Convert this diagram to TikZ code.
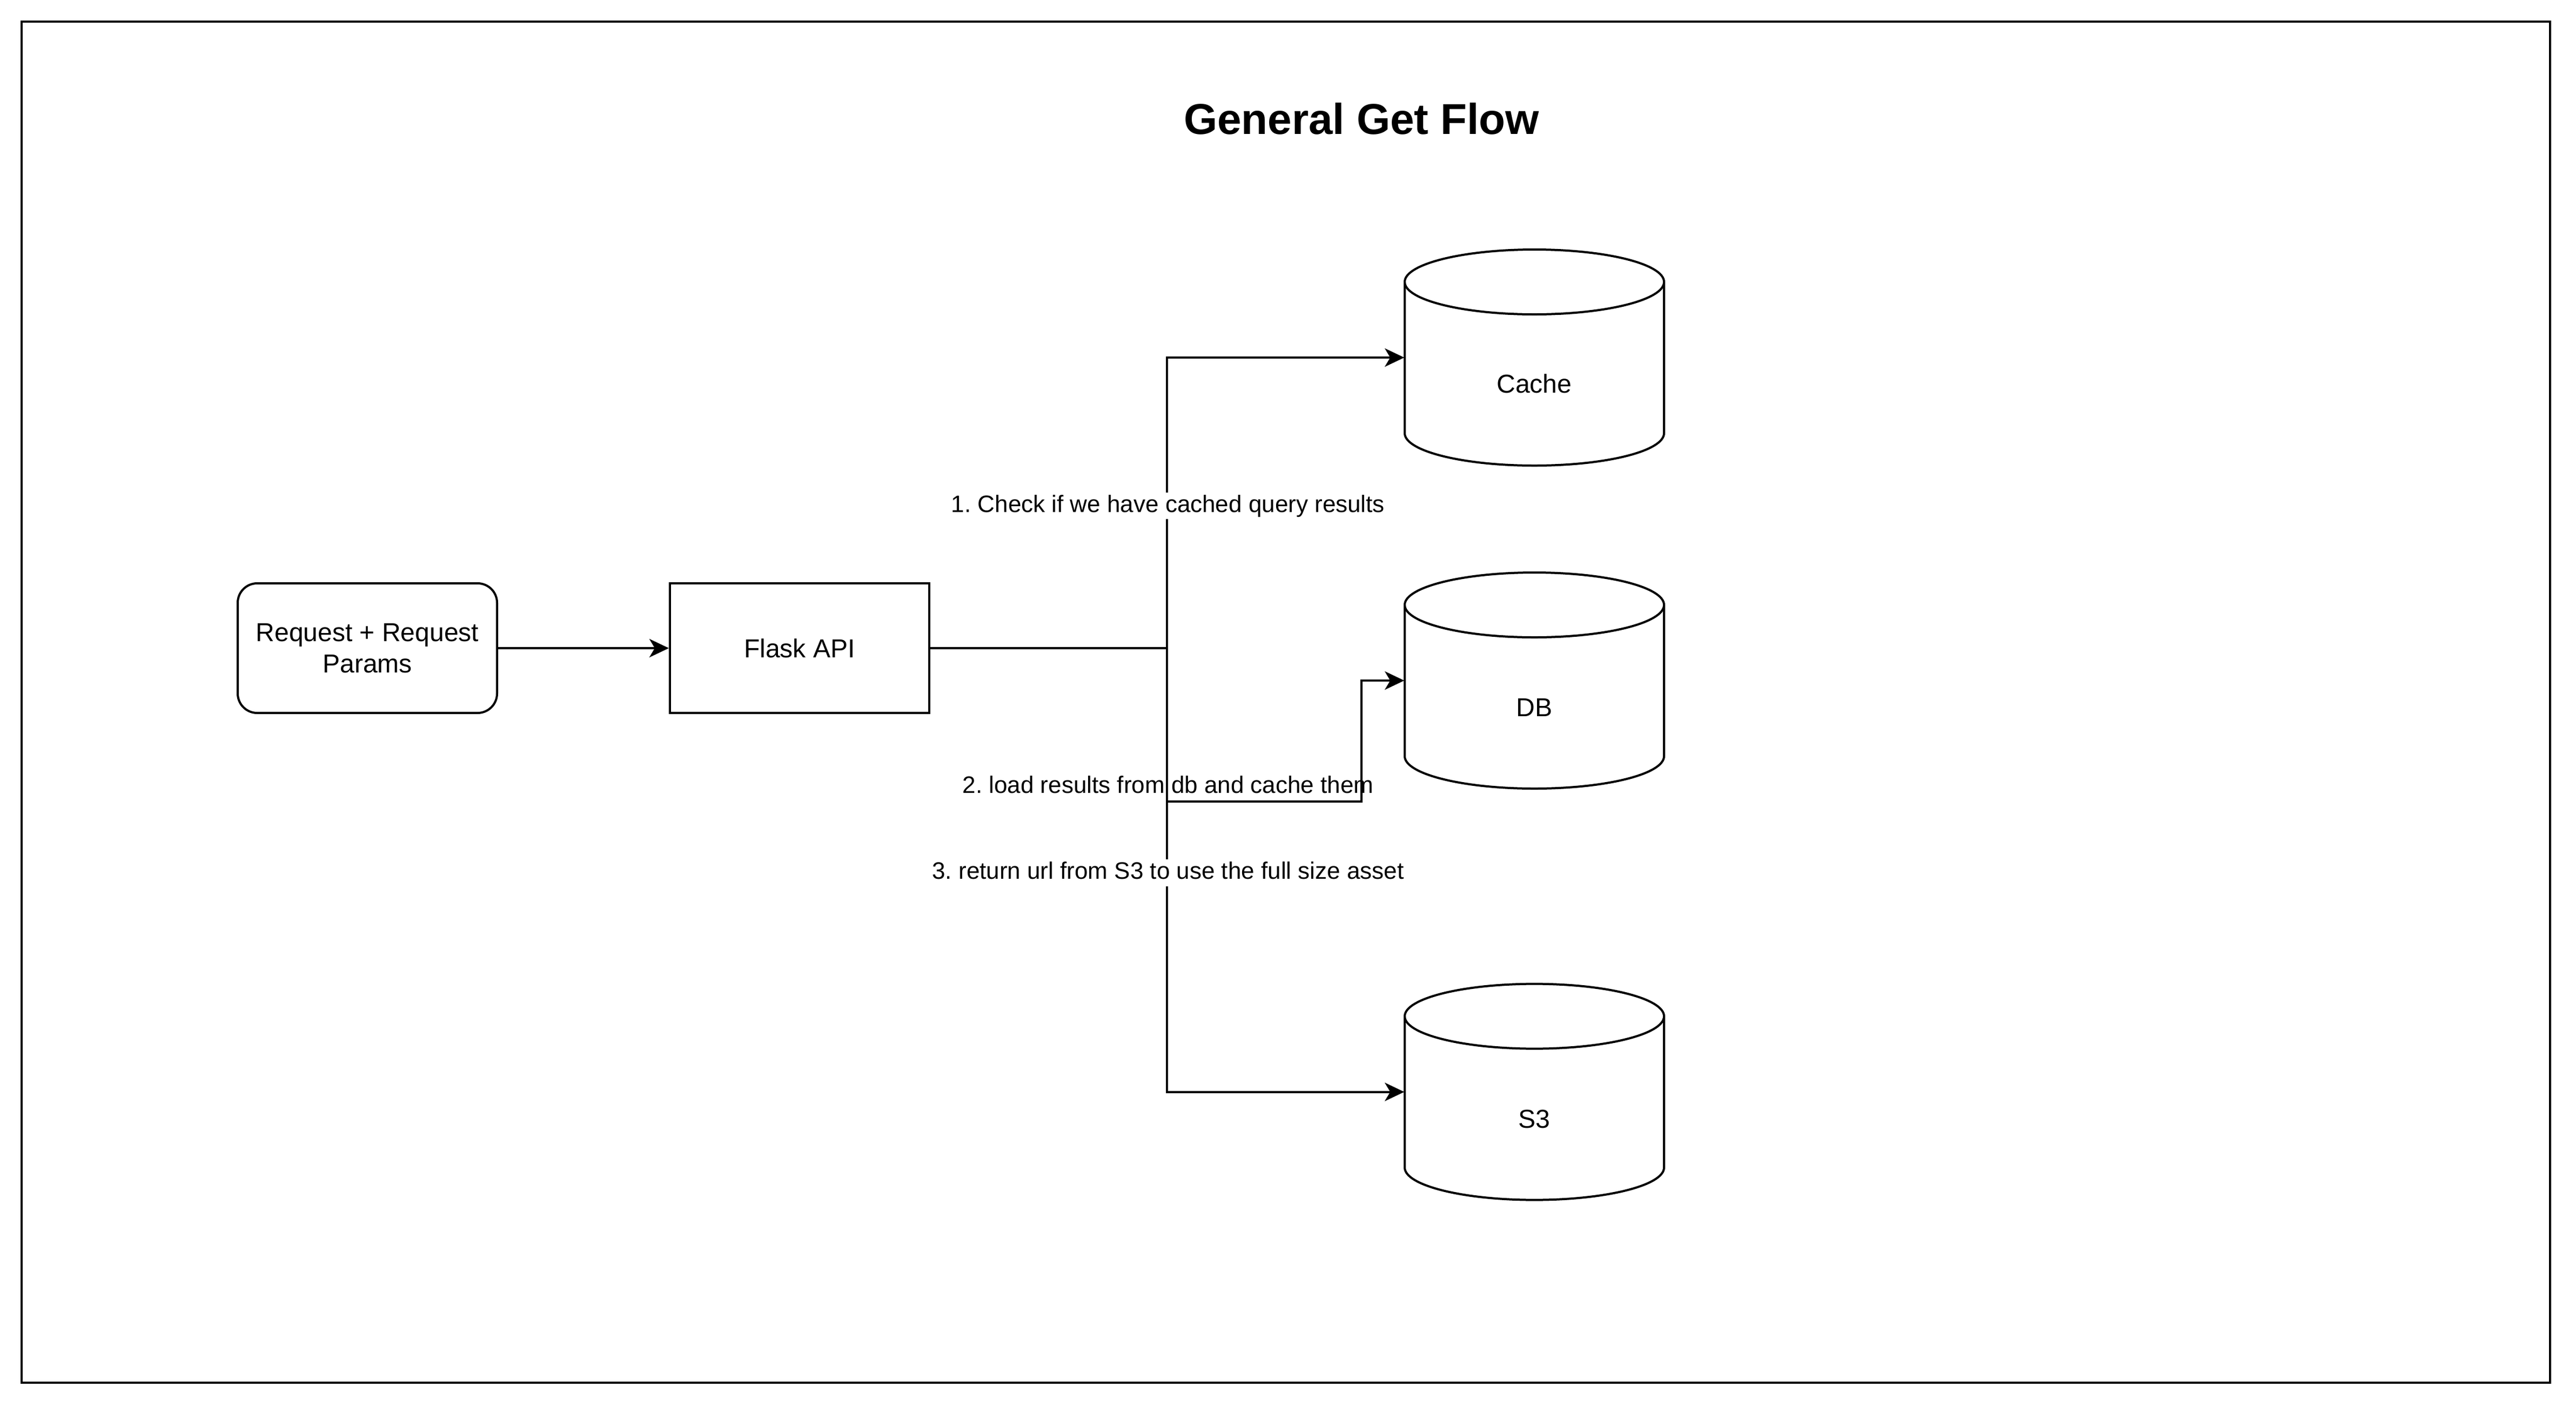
\documentclass[tikz,border=0pt]{standalone}
\usepackage{fontspec}
\setmainfont{Liberation Sans}
\usetikzlibrary{arrows.meta,calc}
\frenchspacing
\tikzset{
  shp/.style={draw=black, line width=1pt, fill=white},
  boxnode/.style={shp, minimum width=120pt, minimum height=60pt, inner sep=0pt, align=center, font=\fontsize{12}{14.4}\selectfont},
  cylnode/.style={draw=none, minimum width=120pt, minimum height=100pt, inner sep=0pt},
  cyltext/.style={font=\fontsize{12}{14.4}\selectfont, inner sep=0pt},
  conn/.style={draw=black, line width=1pt, -{Stealth[length=9pt,width=8.5pt,inset=2.5pt]}},
  plain/.style={draw=black, line width=1pt},
  elabel/.style={font=\fontsize{11}{13.2}\selectfont\frenchspacing, inner sep=1pt, text height=8pt, text depth=2.3pt},
  titlestyle/.style={font=\bfseries\fontsize{20}{24}\selectfont, inner sep=0pt}
}
\newcommand{\cylshape}[2]{%
  \draw[shp] (#1,#2+15) -- (#1,#2+85) arc[start angle=180,end angle=0,x radius=60,y radius=15]
    -- (#1+120,#2+15) arc[start angle=0,end angle=-180,x radius=60,y radius=15] -- cycle;
  \draw[plain] (#1,#2+15) arc[start angle=180,end angle=0,x radius=60,y radius=15];
}
\begin{document}
\begin{tikzpicture}[x=1pt,y=-1pt]
\useasboundingbox (0,0) rectangle (1192,651);
\fill[white] (0,0) rectangle (1192,651);
\draw[plain] (10,10) rectangle (1180,640);

\node[titlestyle] (title) at (630,55) {General Get Flow};

\node[boxnode, rounded corners=9pt] (req) at (170,300) {Request + Request\\Params};
\node[boxnode] (flask) at (370,300) {Flask API};

% cylinders
\cylshape{650}{115.5}
\node[cylnode] (cache) at (710,165.5) {};
\node[cyltext] (cachet) at (710,177.5) {Cache};

\cylshape{650}{265}
\node[cylnode] (db) at (710,315) {};
\node[cyltext] (dbt) at (710,327.5) {DB};

\cylshape{650}{455.4}
\node[cylnode] (s3) at (710,505.4) {};
\node[cyltext] (s3t) at (710,517.9) {S3};

\coordinate (j) at (540,300);
\coordinate (jd1) at (540,371);
\coordinate (jd2) at (630,371);

\draw[conn] (req) -- (flask);

% DB edge
\draw[conn] (flask.east) -- (j) -- (jd1) -- (jd2) |- (db.west);
\node[elabel] (l2) at (540.5,364.2) {2. load results from db and cache them};

% cache edge
\draw[conn] (flask.east) -- (j) |- (cache.west);
\node[elabel, fill=white] (l1) at (540.5,234.2) {1. Check if we have cached query results};

% S3 edge
\draw[conn] (flask.east) -- (j) |- (s3.west);
\node[elabel, fill=white] (l3) at (540.5,404) {3. return url from S3 to use the full size asset};
\end{tikzpicture}
\end{document}
